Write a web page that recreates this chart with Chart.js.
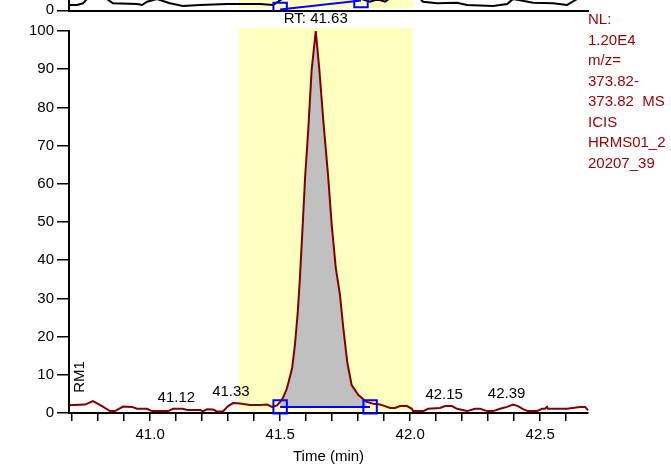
<!DOCTYPE html>
<html>
<head>
<meta charset="utf-8">
<script src="https://cdn.jsdelivr.net/npm/chart.js@4"></script>
<style>
  html, body { margin: 0; padding: 0; background: #fff; }
  #wrap { position: relative; width: 671px; height: 464px; }
  canvas { position: absolute; left: 0; top: 0; }
</style>
</head>
<body>
<div id="wrap">
  <canvas id="main" width="671" height="464"></canvas>
  <canvas id="strip" width="671" height="24"></canvas>
</div>
<script>
// axis ranges and ticks
var xMin = 40.688;
var xMax = 42.684;
var yTicks = [0, 10, 20, 30, 40, 50, 60, 70, 80, 90, 100];
var xTickLabels = [41.0, 41.5, 42.0, 42.5];

// main trace (relative abundance vs time)
var traceTime = [40.688, 40.750, 40.780, 40.815, 40.846, 40.865, 40.896, 40.930, 40.950, 40.988,
  41.007, 41.069, 41.088, 41.126, 41.142, 41.192, 41.203, 41.219, 41.242, 41.257,
  41.280, 41.300, 41.319, 41.346, 41.384, 41.423, 41.450, 41.469, 41.488, 41.500,
  41.511, 41.526, 41.546, 41.557, 41.568, 41.576, 41.587, 41.596, 41.608, 41.621,
  41.637, 41.651, 41.666, 41.685, 41.698, 41.714, 41.730, 41.743, 41.758, 41.775,
  41.801, 41.833, 41.858, 41.884, 41.903, 41.923, 41.942, 41.961, 41.988, 42.007,
  42.011, 42.050, 42.069, 42.115, 42.134, 42.161, 42.180, 42.219, 42.250, 42.269,
  42.296, 42.319, 42.346, 42.373, 42.396, 42.415, 42.434, 42.453, 42.488, 42.507,
  42.519, 42.526, 42.530, 42.603, 42.653, 42.673, 42.684];
var traceIntensity = [2.0, 2.2, 3.1, 1.8, 0.5, 0.5, 1.7, 1.6, 1.1, 1.1,
  0.5, 0.5, 1.1, 1.1, 0.8, 0.8, 0.4, 1.0, 0.9, 0.4,
  0.4, 1.8, 2.6, 2.5, 2.1, 2.1, 2.2, 1.6, 2.0, 2.9,
  4.0, 6.4, 11.7, 17.9, 26.6, 35.3, 49.5, 61.7, 74.0, 89.7,
  100, 89.7, 76.6, 61.7, 49.5, 38.0, 31.0, 22.2, 13.4, 7.3,
  4.7, 2.9, 2.4, 2.2, 1.8, 1.3, 1.3, 1.8, 1.8, 1.1,
  0.5, 0.5, 1.1, 1.3, 1.8, 1.8, 1.1, 0.5, 1.1, 1.1,
  0.5, 0.5, 1.1, 1.6, 2.2, 1.8, 1.0, 0.5, 0.5, 1.1,
  1.1, 1.6, 1.1, 1.1, 1.6, 1.6, 0.7];

// highlighted window and integration baseline
var bandStart = 41.342;
var bandEnd = 42.011;
var bandBottom = 0.6;
var bandTop = 100.8;
var integTime = [41.5, 41.846];
var integLevel = [1.6, 1.6];

// labels
var rtText = 'RT: 41.63';
var peakLabels = ['41.12', '41.33', '42.15', '42.39'];
var peakLabelTime = [41.12, 41.33, 42.15, 42.39];
var infoLines = ['NL:', '1.20E4', 'm/z=', '373.82-', '373.82  MS', 'ICIS', 'HRMS01_2', '20207_39'];
var traceName = 'RM1';

// the chromatogram above (only its bottom edge shows)
var stripTime = [40.684, 40.719, 40.742, 40.757, 40.834, 40.857, 40.950, 40.969, 40.988, 41.026,
  41.076, 41.126, 41.192, 41.296, 41.346, 41.423, 41.473, 41.519, 41.788, 41.846,
  41.865, 41.884, 41.903, 41.930, 42.030, 42.050, 42.103, 42.180, 42.219, 42.319,
  42.373, 42.396, 42.473, 42.550, 42.603, 42.642, 42.684];
var stripIntensity = [6, 6, 7.7, 12, 12, 7.7, 7, 6, 9.3, 12,
  7.7, 5, 6, 7, 7, 7, 6, 14, 14, 9.3,
  11, 11, 9.3, 14, 14, 9.3, 7.7, 8.3, 6, 5,
  7, 12, 8.3, 7.7, 6, 12, 12];
var stripIntegTime = [41.5, 41.811];
var stripIntegLevel = [1.5, 10.5];
var stripBandBottom = 3;

var red = '#800000';
var infoRed = '#990000';
var blue = '#0000ff';
var yellow = '#ffffc0';
var font15 = "15px 'Liberation Sans', Arial, sans-serif";

Chart.defaults.font.family = "'Liberation Sans', Arial, sans-serif";
Chart.defaults.font.size = 15;
Chart.defaults.color = '#000';

function pts(xs, ys) {
  return xs.map(function (x, i) { return { x: x, y: ys[i] }; });
}

var trace = pts(traceTime, traceIntensity);
var peakArea = trace.filter(function (p) { return p.x >= integTime[0] && p.x <= integTime[1]; });

var bandPlugin = {
  id: 'band',
  beforeDatasetsDraw: function (chart) {
    var ctx = chart.ctx, xs = chart.scales.x, ys = chart.scales.y;
    var o = chart.options.plugins.band;
    var l = xs.getPixelForValue(bandStart), r = xs.getPixelForValue(bandEnd);
    var t = o.top == null ? 0 : ys.getPixelForValue(o.top);
    var b = ys.getPixelForValue(o.bottom);
    ctx.save();
    ctx.fillStyle = yellow;
    ctx.fillRect(l, t, r - l, b - t);
    ctx.restore();
  }
};

var textPlugin = {
  id: 'texts',
  afterDraw: function (chart) {
    var ctx = chart.ctx, xs = chart.scales.x, ys = chart.scales.y, a = chart.chartArea;
    ctx.save();
    ctx.font = font15;
    ctx.fillStyle = '#000';
    ctx.textAlign = 'center';
    ctx.textBaseline = 'alphabetic';

    // retention time of the apex
    var top = 0, topX = 0;
    trace.forEach(function (p) { if (p.y > top) { top = p.y; topX = p.x; } });
    ctx.fillText(rtText, xs.getPixelForValue(topX), ys.getPixelForValue(top) - 8);

    // small peak labels
    peakLabelTime.forEach(function (t, i) {
      var m = 0;
      trace.forEach(function (p) { if (Math.abs(p.x - t) < 0.03 && p.y > m) m = p.y; });
      ctx.fillText(peakLabels[i], xs.getPixelForValue(t) - 5, ys.getPixelForValue(m) - 7);
    });

    // trace name, vertical
    ctx.save();
    ctx.translate(a.left + 15, a.bottom - 36);
    ctx.rotate(-Math.PI / 2);
    ctx.fillText(traceName, 0, 0);
    ctx.restore();

    // info block on the right
    ctx.fillStyle = infoRed;
    ctx.textAlign = 'left';
    infoLines.forEach(function (s, i) {
      ctx.fillText(s, a.right, a.top - 7 + i * 20.5);
    });
    ctx.restore();
  }
};

var stripZeroPlugin = {
  id: 'stripZero',
  afterDraw: function (chart) {
    var ctx = chart.ctx, ys = chart.scales.y;
    ctx.save();
    ctx.font = font15;
    ctx.fillStyle = '#000';
    ctx.textAlign = 'right';
    ctx.textBaseline = 'middle';
    ctx.fillText('0', ys.right - 15, ys.getPixelForValue(0) - 1.5);
    ctx.restore();
  }
};

new Chart(document.getElementById('main'), {
  type: 'line',
  data: {
    datasets: [
      {
        data: pts(integTime, integLevel),
        borderColor: blue,
        borderWidth: 2,
        pointStyle: 'rect',
        pointRadius: 9.5,
        pointBorderWidth: 2,
        pointBorderColor: blue,
        pointBackgroundColor: 'rgba(0,0,0,0)',
        clip: false,
        order: 0
      },
      {
        data: trace,
        borderColor: red,
        borderWidth: 2,
        pointRadius: 0,
        tension: 0,
        clip: 3,
        order: 1
      },
      {
        data: peakArea,
        borderWidth: 0,
        borderColor: 'rgba(0,0,0,0)',
        backgroundColor: '#c0c0c0',
        pointRadius: 0,
        fill: { value: integLevel[0] },
        order: 2
      }
    ]
  },
  options: {
    responsive: false,
    animation: false,
    layout: { autoPadding: false, padding: { left: 0, right: 83, top: 31, bottom: 0 } },
    plugins: {
      legend: { display: false },
      tooltip: { enabled: false },
      band: { top: bandTop, bottom: bandBottom }
    },
    scales: {
      x: {
        type: 'linear',
        min: xMin,
        max: xMax,
        ticks: {
          stepSize: 0.1,
          includeBounds: false,
          autoSkip: false,
          maxRotation: 0,
          padding: 5,
          callback: function (v) {
            var hit = xTickLabels.some(function (l) { return Math.abs(l - v) < 1e-6; });
            return hit ? (Math.round(v * 10) / 10).toFixed(1) : '';
          }
        },
        grid: { drawOnChartArea: false, tickLength: 8, color: '#000', lineWidth: 1.5 },
        border: { color: '#000', width: 2 },
        title: { display: true, text: 'Time (min)', font: { lineHeight: 1.0 }, padding: { top: 0, bottom: 0 } }
      },
      y: {
        min: 0,
        max: 100,
        afterBuildTicks: function (s) { s.ticks = yTicks.map(function (v) { return { value: v }; }); },
        afterFit: function (s) { s.width = 69; },
        ticks: { padding: 3 },
        grid: { drawOnChartArea: false, tickLength: 12, color: '#000', lineWidth: 1.5 },
        border: { color: '#000', width: 2 }
      }
    }
  },
  plugins: [bandPlugin, textPlugin]
});

new Chart(document.getElementById('strip'), {
  type: 'line',
  data: {
    datasets: [
      {
        data: pts(stripIntegTime, stripIntegLevel),
        borderColor: blue,
        borderWidth: 2,
        pointStyle: 'rect',
        pointRadius: 9.5,
        pointBorderWidth: 2,
        pointBorderColor: blue,
        pointBackgroundColor: 'rgba(0,0,0,0)',
        clip: 0,
        order: 0
      },
      {
        data: pts(stripTime, stripIntensity),
        borderColor: '#000',
        borderWidth: 2,
        pointRadius: 0,
        tension: 0,
        clip: 0,
        order: 1
      }
    ]
  },
  options: {
    responsive: false,
    animation: false,
    layout: { autoPadding: false, padding: { left: 0, right: 83, top: 0, bottom: 13 } },
    plugins: {
      legend: { display: false },
      tooltip: { enabled: false },
      band: { top: null, bottom: stripBandBottom }
    },
    scales: {
      x: {
        type: 'linear',
        min: xMin,
        max: xMax,
        ticks: { display: false },
        grid: { drawOnChartArea: false, drawTicks: false, color: '#000' },
        border: { color: '#000', width: 2 }
      },
      y: {
        min: 0,
        max: 11,
        afterBuildTicks: function (s) { s.ticks = [{ value: 0 }]; },
        afterFit: function (s) { s.width = 69; },
        ticks: { display: false },
        grid: { drawOnChartArea: false, tickLength: 12, color: '#000', lineWidth: 1.5 },
        border: { color: '#000', width: 2 }
      }
    }
  },
  plugins: [bandPlugin, stripZeroPlugin]
});
</script>
</body>
</html>
